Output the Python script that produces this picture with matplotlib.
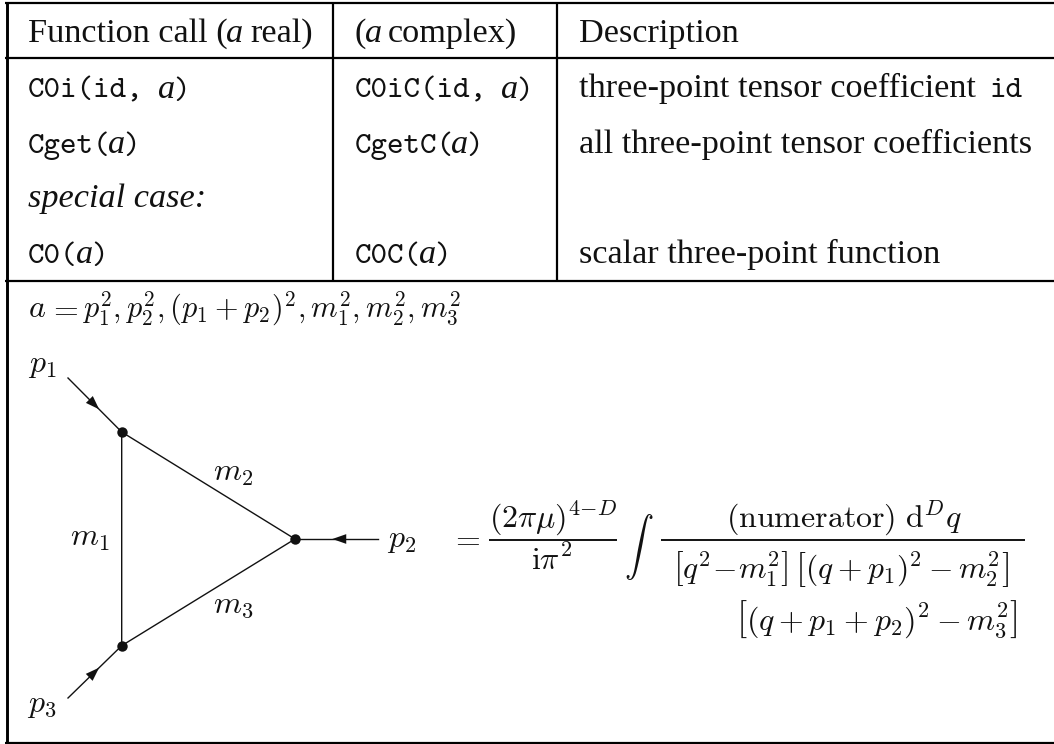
import matplotlib
matplotlib.use("Agg")
import matplotlib.pyplot as plt

W, H = 1054, 744
SERIF = "Liberation Serif"
TYPEWRITER = "cmtt10"  # ships with matplotlib
INK = "#111111"
BODY = 24.7
MATH = 23
TT = 22.7

# table rules, in pixels of the picture
h_rules = [2.5, 57.5, 280.5, 742.5]
v_rules = [(333, 2, 281), (557, 2, 281)]

# description column
desc_x = 579
desc_rows = [
    (42, "Description"),
    (97, "three-point tensor coefficient"),
    (153, "all three-point tensor coefficients"),
    (263, "scalar three-point function"),
]

# function rows: x, baseline, mono part before a, x of a, x of closing bracket
calls = [
    (28, 98, "C0i(id,", 158, 173),
    (355, 98, "C0iC(id,", 501, 516),
    (28, 153, "Cget(", 108, 123),
    (355, 153, "CgetC(", 451, 466),
    (28, 263, "C0(", 76, 91),
    (355, 263, "C0C(", 419, 434),
]

# triangle
vertices = [(121.7, 432), (295, 539), (121.7, 645.7)]
legs = [((68, 378), (121.7, 432), 0.58), ((378, 539), (295, 539), 0.55), ((68, 698), (121.7, 645.7), 0.58)]
labels = [("$m_1$", 90, 546), ("$m_2$", 233, 481), ("$m_3$", 233, 613),
          ("$p_1$", 42, 372), ("$p_2$", 402, 547), ("$p_3$", 42, 712)]


def mono(ax, x, y, s):
    return ax.text(x, y, s, fontsize=TT, family=TYPEWRITER, va="baseline", ha="left", color=INK)


def serif(ax, x, y, s, style="normal", size=BODY):
    return ax.text(x, y, s, fontsize=size, family=SERIF, style=style, va="baseline", ha="left", color=INK)


def math(ax, x, y, s, size=MATH, ha="left"):
    return ax.text(x, y, s, fontsize=size, va="baseline", ha=ha, math_fontfamily="cm", color=INK)


fig = plt.figure(figsize=(W / 100, H / 100), dpi=100)
ax = fig.add_axes([0, 0, 1, 1])
ax.set_xlim(0, W)
ax.set_ylim(H, 0)
ax.axis("off")

for y in h_rules:
    ax.plot([5, W], [y, y], color="black", lw=1.6, solid_capstyle="butt")
for x, y0, y1 in v_rules:
    ax.plot([x, x], [y0, y1], color="black", lw=1.6, solid_capstyle="butt")
ax.plot([6.5, 6.5], [1.5, 743.5], color="black", lw=2.1, solid_capstyle="butt")

# header row
serif(ax, 28, 42, "Function call (")
serif(ax, 226, 42, "a", style="italic")
serif(ax, 250, 42, "real)")
serif(ax, 355, 42, "(")
serif(ax, 365, 42, "a", style="italic")
serif(ax, 388, 42, "complex)")

for x, y, s, xa, xb in calls:
    mono(ax, x, y, s)
    serif(ax, xa, y, "a", style="italic")
    mono(ax, xb, y, ")")
serif(ax, 28, 207, "special case:", style="italic")

for y, s in desc_rows:
    serif(ax, desc_x, y, s)
mono(ax, 990, 97, "id")

# kinematics line
math(ax, 28, 317, "$a$")
math(ax, 63, 317, "$=$", ha="center")
math(ax, 82, 317, r"$p_1^2,p_2^2,(p_1+p_2)^2,m_1^2,m_2^2,m_3^2$", size=21.8)

# triangle lines and legs
a, b, c = vertices
ax.plot([a[0], b[0], c[0], a[0]], [a[1], b[1], c[1], a[1]], color=INK, lw=1.0)
for start, end, frac in legs:
    ax.plot([start[0], end[0]], [start[1], end[1]], color=INK, lw=1.0)
    tip = (start[0] + (end[0] - start[0]) * frac, start[1] + (end[1] - start[1]) * frac)
    ax.annotate("", xy=tip, xytext=start,
                arrowprops=dict(arrowstyle="-|>,head_length=1.0,head_width=0.35", color=INK,
                                lw=0, shrinkA=0, shrinkB=0))
ax.plot(*zip(a, b, c), ls="none", marker="o", ms=7.5, color=INK, mec="none")

for s, x, y in labels:
    math(ax, x, y, s, ha="center")

# formula
math(ax, 465, 547, "$=$", ha="center")
math(ax, 553, 528, r"$(2\pi\mu)^{4{-}D}$", ha="center")
ax.plot([489, 617], [540, 540], color="black", lw=1.3, solid_capstyle="butt")
math(ax, 552, 570, r"$\mathrm{i}\pi^2$", ha="center")
math(ax, 639, 557, r"$\int$", size=21, ha="center")
ax.plot([661, 1025], [540, 540], color="black", lw=1.3, solid_capstyle="butt")
math(ax, 844, 528, r"$\mathrm{(numerator)}\ \mathrm{d}^Dq$", ha="center")
math(ax, 673, 579, r"$\left[q^2\!-\!m_1^2\right]\,\left[(q+p_1)^2-m_2^2\right]$", size=22.7)
math(ax, 1018, 630, r"$\left[(q+p_1+p_2)^2-m_3^2\right]$", ha="right")

fig.savefig("out.png", dpi=100, facecolor="white")
